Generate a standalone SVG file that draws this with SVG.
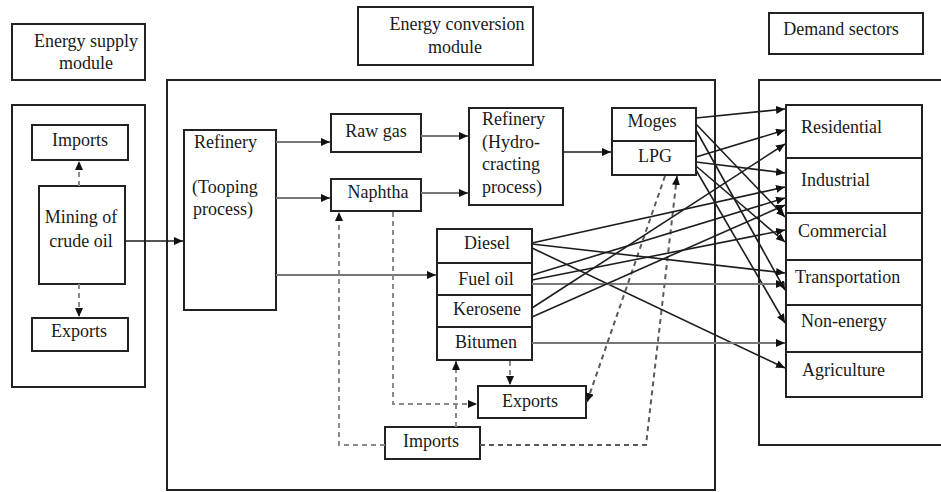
<svg xmlns="http://www.w3.org/2000/svg" width="941" height="492" viewBox="0 0 941 492">
<style>
.box{fill:#fff;stroke:#222;stroke-width:2}
.frame{fill:none;stroke:#222;stroke-width:2}
text{font-family:"Liberation Serif","Times New Roman",serif;font-size:18px;fill:#1a1a1a}
.c{text-anchor:middle}
.g{stroke:#777;stroke-width:2;fill:none}
.k{stroke:#1e1e1e;stroke-width:1.6;fill:none}
.d{stroke:#8a8a8a;stroke-width:2;stroke-dasharray:5 4;fill:none}
.dk{stroke:#5a5a5a;stroke-width:2;stroke-dasharray:5 4;fill:none}
</style>
<defs>
<marker id="ah" markerUnits="userSpaceOnUse" markerWidth="9" markerHeight="8" viewBox="0 0 9 8" refX="9" refY="4" orient="auto">
<path d="M0,0 L9,4 L0,8 z" fill="#111"/>
</marker>
</defs>
<rect width="941" height="492" fill="#fff"/>

<g id="frames">
<rect class="frame" x="12" y="105" width="133" height="282"/>
<rect class="frame" x="167" y="80" width="548" height="410"/>
<rect class="frame" x="759" y="80" width="200" height="365"/>
</g>

<g id="label-supply"><rect class="box" x="12" y="24" width="133" height="56"/><text class="c" x="86" y="47">Energy supply</text><text class="c" x="86" y="69">module</text></g>
<g id="label-conversion"><rect class="box" x="358" y="7" width="175" height="58"/><text class="c" x="457" y="30">Energy conversion</text><text class="c" x="455" y="53">module</text></g>
<g id="label-demand"><rect class="box" x="769" y="13" width="154" height="41"/><text class="c" x="841" y="35">Demand sectors</text></g>

<g id="supply-imports"><rect class="box" x="32" y="125" width="96" height="35"/><text class="c" x="80" y="146">Imports</text></g>
<g id="mining"><rect class="box" x="39" y="186" width="86" height="98"/><text class="c" x="81" y="223">Mining of</text><text class="c" x="81" y="247">crude oil</text></g>
<g id="supply-exports"><rect class="box" x="32" y="318" width="96" height="33"/><text class="c" x="79" y="337">Exports</text></g>

<g id="refinery-tooping"><rect class="box" x="184" y="130" width="92" height="180"/><text x="194" y="148">Refinery</text><text x="192" y="193">(Tooping</text><text x="193" y="215">process)</text></g>
<g id="raw-gas"><rect class="box" x="331" y="114" width="90" height="38"/><text class="c" x="376" y="137">Raw gas</text></g>
<g id="naphtha"><rect class="box" x="331" y="179" width="90" height="32"/><text class="c" x="378" y="198">Naphtha</text></g>
<g id="refinery-hydro"><rect class="box" x="469" y="108" width="94" height="97"/><text x="482" y="125">Refinery</text><text x="482" y="148">(Hydro-</text><text x="482" y="170">cracting</text><text x="482" y="193">process)</text></g>
<g id="moges"><rect class="box" x="612" y="108" width="84" height="33"/><text class="c" x="652" y="127">Moges</text></g>
<g id="lpg"><rect class="box" x="612" y="141" width="84" height="34"/><text class="c" x="655" y="162">LPG</text></g>
<g id="diesel"><rect class="box" x="437" y="229" width="95" height="34"/><text class="c" x="487" y="249">Diesel</text></g>
<g id="fuel-oil"><rect class="box" x="437" y="263" width="95" height="32"/><text class="c" x="486" y="285">Fuel oil</text></g>
<g id="kerosene"><rect class="box" x="437" y="295" width="95" height="32"/><text class="c" x="487" y="315">Kerosene</text></g>
<g id="bitumen"><rect class="box" x="437" y="327" width="95" height="33"/><text class="c" x="486" y="348">Bitumen</text></g>
<g id="conv-exports"><rect class="box" x="478" y="386" width="108" height="32"/><text class="c" x="530" y="407">Exports</text></g>
<g id="conv-imports"><rect class="box" x="385" y="427" width="95" height="32"/><text class="c" x="431" y="447">Imports</text></g>

<g id="residential"><rect class="box" x="786" y="105" width="136" height="53"/><text x="801" y="133">Residential</text></g>
<g id="industrial"><rect class="box" x="786" y="158" width="136" height="55"/><text x="801" y="186">Industrial</text></g>
<g id="commercial"><rect class="box" x="786" y="213" width="136" height="47"/><text x="798" y="237">Commercial</text></g>
<g id="transportation"><rect class="box" x="786" y="260" width="136" height="45"/><text x="795" y="283">Transportation</text></g>
<g id="non-energy"><rect class="box" x="786" y="305" width="136" height="47"/><text x="801" y="327">Non-energy</text></g>
<g id="agriculture"><rect class="box" x="786" y="352" width="136" height="45"/><text x="802" y="376">Agriculture</text></g>

<g id="connectors">
<path class="d" d="M79,186 V161" marker-end="url(#ah)"/>
<path class="d" d="M79,284 V317" marker-end="url(#ah)"/>
<path class="k" d="M125,241 H183" marker-end="url(#ah)"/>
<path class="g" d="M276,142 H330" marker-end="url(#ah)"/>
<path class="g" d="M276,198 H330" marker-end="url(#ah)"/>
<path class="g" d="M276,275 H436" marker-end="url(#ah)"/>
<path class="g" d="M421,136 H468" marker-end="url(#ah)"/>
<path class="g" d="M421,193 H468" marker-end="url(#ah)"/>
<path class="k" d="M563,152 H611" marker-end="url(#ah)"/>

<path class="d" d="M385,445 H339 V212" marker-end="url(#ah)"/>
<path class="d" d="M393,212 V404 H477" marker-end="url(#ah)"/>
<path class="d" d="M456,427 V361" marker-end="url(#ah)"/>
<path class="d" d="M510,361 V385" marker-end="url(#ah)"/>
<path class="dk" d="M480,445 H646 L677,176" marker-end="url(#ah)"/>
<path class="dk" d="M665,176 L587,402" marker-end="url(#ah)"/>

<path class="k" d="M696,118 L785,109" marker-end="url(#ah)"/>
<path class="k" d="M696,124 L785,217" marker-end="url(#ah)"/>
<path class="k" d="M696,130 L785,290" marker-end="url(#ah)"/>
<path class="k" d="M696,157 L785,130" marker-end="url(#ah)"/>
<path class="k" d="M696,162 L785,173" marker-end="url(#ah)"/>
<path class="k" d="M696,166 L785,242" marker-end="url(#ah)"/>
<path class="k" d="M696,170 L785,323" marker-end="url(#ah)"/>
<path class="k" d="M532,243 L785,187" marker-end="url(#ah)"/>
<path class="k" d="M532,244 L785,273" marker-end="url(#ah)"/>
<path class="k" d="M532,248 L785,368" marker-end="url(#ah)"/>
<path class="k" d="M532,275 L785,198" marker-end="url(#ah)"/>
<path class="k" d="M532,280 L785,230" marker-end="url(#ah)"/>
<path class="g" d="M532,284 H785" marker-end="url(#ah)"/>
<path class="k" d="M532,308 L785,144" marker-end="url(#ah)"/>
<path class="k" d="M532,317 L785,205" marker-end="url(#ah)"/>
<path class="g" d="M532,343 H785" marker-end="url(#ah)"/>
</g>
</svg>
